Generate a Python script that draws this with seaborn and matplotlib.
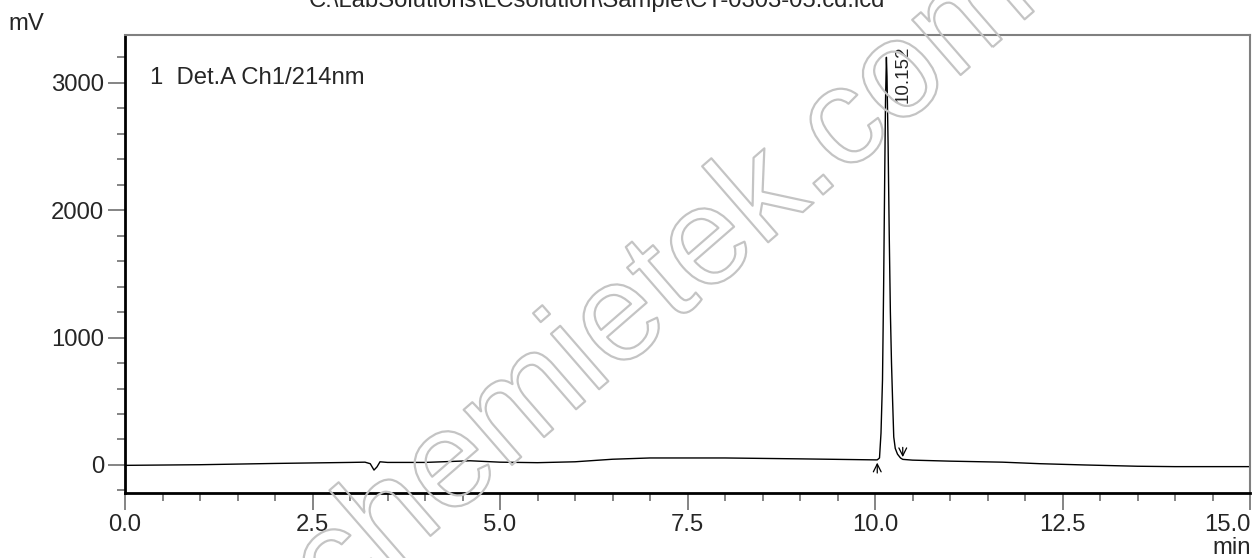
import numpy as np
import pandas as pd
import matplotlib
matplotlib.use("Agg")
import matplotlib.pyplot as plt
import matplotlib.patheffects as pe
from matplotlib.ticker import MultipleLocator
import seaborn as sns

# chromatogram (min, mV)
time_min = [0.0, 1.0, 2.0, 3.0, 3.2, 3.27, 3.32, 3.36, 3.40, 3.5, 4.0, 4.6, 5.0, 5.5, 6.0,
            6.5, 7.0, 8.0, 9.0, 10.0, 10.03, 10.06, 10.08, 10.10, 10.115, 10.13, 10.14,
            10.152, 10.16, 10.175, 10.19, 10.205, 10.22, 10.235, 10.25, 10.27, 10.30,
            10.34, 10.37, 10.5, 11.0, 11.7, 12.2, 12.8, 13.5, 14.0, 15.0]
signal_mv = [-3, 2, 12, 20, 22, 10, -40, -15, 25, 20, 20, 33, 22, 18, 25,
             45, 55, 55, 48, 40, 40, 55, 250, 667, 1400, 2300, 2850,
             3200, 3050, 2500, 1800, 1200, 800, 500, 220, 130, 85,
             55, 44, 38, 30, 22, 10, 0, -10, -13, -13]

peak_rt = 10.152
peak_label = "10.152"
peak_start, peak_end = 10.03, 10.37
channel_label = "1  Det.A Ch1/214nm"
file_title = "C:\\LabSolutions\\LCsolution\\Sample\\CT-0303-05.cd.lcd"

df = pd.DataFrame({"time": time_min, "mV": signal_mv})

sns.set_style("white")
plt.rcParams['font.family'] = ['Liberation Sans', 'DejaVu Sans']
fs = 17.2

fig = plt.figure(figsize=(12.54, 5.58), dpi=100)
ax = fig.add_axes([125 / 1254, 65 / 558, 1125 / 1254, 458 / 558])

sns.lineplot(data=df, x="time", y="mV", ax=ax, color="black", linewidth=1.0,
             estimator=None, sort=False)

ax.set_xlim(0, 15)
ax.set_ylim(-220, 3375)
ax.set_xlabel("")
ax.set_ylabel("")

ax.xaxis.set_major_locator(MultipleLocator(2.5))
ax.xaxis.set_minor_locator(MultipleLocator(0.5))
ax.yaxis.set_major_locator(MultipleLocator(1000))
ax.yaxis.set_minor_locator(MultipleLocator(200))
ax.xaxis.set_major_formatter(matplotlib.ticker.FormatStrFormatter("%.1f"))
ax.tick_params(axis="both", which="major", direction="out", length=12, width=1.2,
               color="#707070", labelsize=fs, pad=3)
ax.tick_params(axis="both", which="minor", direction="out", length=6, width=1.2,
               color="#707070")
ax.tick_params(axis="x", which="both", bottom=True)
ax.tick_params(axis="y", which="both", left=True)

# last x label sits inside the figure edge, like the original
fig.canvas.draw()
xlabels = ax.get_xticklabels()
for lab in xlabels:
    if lab.get_text() == "15.0":
        lab.set_horizontalalignment("right")
        lab.set_x(15.0)

for side in ["left", "bottom"]:
    ax.spines[side].set_color("black")
    ax.spines[side].set_linewidth(2)
for side in ["top", "right"]:
    ax.spines[side].set_color("#808080")
    ax.spines[side].set_linewidth(1.5)

# integration marks
ax.annotate("", xy=(peak_start, 40), xytext=(peak_start, -85),
            arrowprops=dict(arrowstyle="->", color="black", lw=0.9,
                            mutation_scale=14))
ax.annotate("", xy=(peak_end, 40), xytext=(peak_end, 160),
            arrowprops=dict(arrowstyle="->", color="black", lw=0.9,
                            mutation_scale=14))

ax.text(peak_rt + 0.22, 2840, peak_label, rotation=90, ha="center", va="bottom",
        fontsize=13.5)
ax.text(0.022, 0.93, channel_label, transform=ax.transAxes, fontsize=fs,
        ha="left", va="top")

fig.text(8 / 1254, 1 - 30 / 558, "mV", fontsize=fs, ha="left", va="baseline")
fig.text(1251 / 1254, 1 - 554 / 558, "min", fontsize=fs, ha="right", va="baseline")
fig.text(597 / 1254, 1 - 7 / 558, file_title, fontsize=fs, ha="center", va="baseline")

# watermark
fig.text(0.53, 0.49, "chemietek.com", fontsize=100, rotation=41, ha="center",
         va="center", color="none",
         path_effects=[pe.withStroke(linewidth=1.6, foreground="#c4c4c4")])

fig.savefig("out.png", dpi=100)
